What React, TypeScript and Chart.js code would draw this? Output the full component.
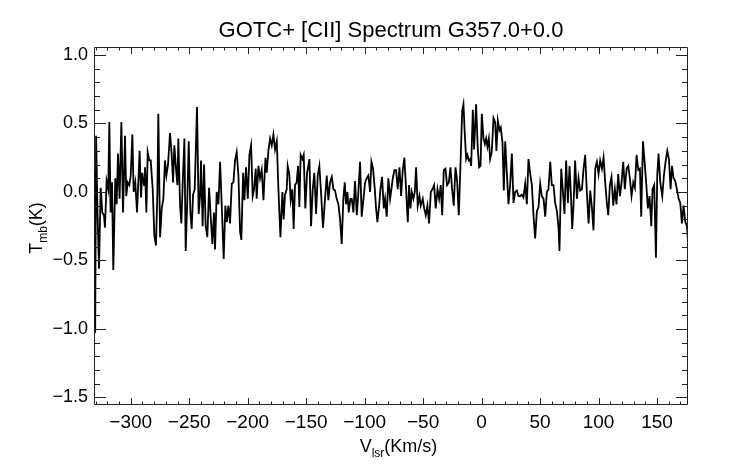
import React, { useEffect, useRef } from "react";
import { Chart, registerables } from "chart.js";

Chart.register(...registerables);

// Channel velocities (km/s) and main-beam temperatures (K)
const velocity = [
  -330.4, -329.6, -328.4, -327.1, -325.7, -324.3, -322.9, -322.0, -320.6, -319.2,
  -318.3, -317.2, -316.0, -314.9, -313.2, -312.0, -310.9, -309.5, -308.0, -306.6,
  -304.9, -303.8, -302.6, -301.2, -300.0, -298.6, -297.5, -296.1, -294.6, -292.4,
  -291.2, -290.1, -288.6, -287.8, -286.6, -285.5, -284.1, -282.9, -281.2, -279.8,
  -278.4, -277.2, -276.4, -274.9, -273.5, -272.1, -270.7, -269.5, -268.1, -266.4,
  -265.0, -263.8, -262.7, -261.3, -260.1, -259.3, -257.8, -256.7, -255.6, -254.1,
  -253.0, -251.6, -250.4, -249.0, -247.9, -246.7, -245.3, -243.3, -241.9, -240.7,
  -239.9, -238.5, -237.3, -235.9, -234.5, -233.0, -231.6, -230.2, -228.8, -227.9,
  -226.5, -225.0, -223.6, -221.9, -220.5, -219.1, -217.9, -216.5, -215.1, -213.6,
  -212.2, -210.8, -209.4, -207.9, -206.5, -205.4, -203.9, -202.8, -201.4, -199.9,
  -198.5, -197.1, -195.7, -194.5, -193.1, -192.3, -190.8, -189.4, -188.0, -186.5,
  -184.8, -183.7, -182.3, -180.8, -179.4, -178.0, -176.6, -175.1, -173.7, -172.0,
  -170.3, -169.2, -168.1, -166.6, -165.8, -164.4, -163.2, -161.8, -160.7, -159.5,
  -158.1, -156.9, -155.8, -154.7, -153.2, -152.1, -150.7, -149.2, -147.2, -145.8,
  -144.4, -143.0, -141.5, -140.1, -138.7, -137.3, -135.6, -134.1, -132.4, -131.0,
  -129.6, -128.1, -126.7, -125.3, -123.9, -122.4, -121.0, -119.6, -118.2, -117.0,
  -115.9, -114.7, -113.6, -112.2, -111.0, -109.6, -108.2, -106.7, -105.6, -103.9,
  -102.5, -101.0, -99.6, -98.2, -96.8, -95.3, -94.2, -92.8, -91.3, -90.2,
  -89.1, -87.6, -86.5, -85.1, -83.6, -82.5, -81.1, -79.7, -78.2, -77.1,
  -75.9, -74.5, -73.1, -71.7, -70.2, -68.8, -67.4, -66.0, -64.5, -63.1,
  -62.0, -60.8, -59.7, -58.3, -57.1, -56.0, -54.6, -53.1, -52.0, -50.3,
  -49.1, -47.7, -46.3, -44.9, -43.4, -42.0, -40.6, -39.2, -37.7, -36.3,
  -34.9, -33.7, -32.3, -30.9, -29.5, -28.0, -26.6, -25.2, -23.8, -22.3,
  -20.9, -19.5, -18.1, -16.6, -15.5, -14.4, -13.2, -12.1, -10.9, -9.8,
  -8.9, -7.5, -6.4, -4.7, -3.2, -2.1, -0.9, 0.2, 1.6, 2.8,
  3.9, 5.0, 6.2, 7.3, 8.7, 10.2, 11.6, 12.7, 13.9, 15.3,
  16.4, 17.9, 19.0, 20.2, 21.6, 23.0, 24.4, 25.9, 27.3, 28.7,
  30.1, 31.6, 33.0, 34.4, 35.8, 37.3, 38.7, 40.1, 41.5, 43.0,
  44.4, 45.8, 47.3, 48.7, 50.1, 51.5, 53.0, 54.4, 55.8, 57.2,
  58.7, 60.1, 61.5, 62.9, 64.4, 65.8, 66.6, 68.1, 69.5, 70.9,
  72.3, 73.8, 75.2, 76.3, 77.5, 78.6, 80.0, 81.5, 82.9, 84.3,
  85.8, 87.2, 88.6, 90.0, 91.5, 92.9, 94.3, 95.7, 97.2, 98.6,
  100.0, 101.4, 102.9, 104.3, 105.7, 107.1, 108.3, 109.7, 111.1, 112.6,
  114.0, 115.4, 116.8, 118.3, 119.7, 121.1, 122.5, 124.0, 125.4, 126.8,
  128.2, 129.7, 131.1, 132.5, 134.0, 135.4, 136.5, 138.0, 139.4, 140.8,
  142.2, 143.6, 145.1, 146.2, 147.6, 149.1, 150.2, 151.3, 152.8, 154.5,
  155.9, 157.3, 158.8, 160.2, 161.6, 162.8, 164.2, 165.6, 167.0, 168.5,
  169.9, 171.3, 172.7, 174.2, 175.6, 176.4,
];

const tmb = [
  -1.03, 0.41, -0.15, -0.56, 0.03, -0.15, -0.17, -0.26, 0.08, 0.02,
  0.51, -0.15, 0.07, -0.57, 0.10, -0.09, 0.28, -0.05, 0.51, -0.15,
  0.41, -0.03, 0.07, 0.05, 0.12, 0.42, 0.00, 0.07, -0.15, 0.30,
  -0.04, 0.14, 0.05, 0.18, -0.15, 0.29, 0.23, 0.23, 0.02, -0.32,
  -0.39, 0.00, 0.57, -0.33, -0.12, -0.05, 0.23, 0.12, 0.20, 0.43,
  0.28, 0.07, 0.34, 0.17, 0.05, 0.39, -0.10, -0.23, 0.05, 0.39,
  -0.43, -0.05, 0.37, -0.15, -0.27, -0.02, 0.02, 0.62, -0.16, -0.03,
  0.23, -0.25, 0.20, -0.25, -0.33, 0.03, -0.18, -0.38, -0.15, -0.42,
  0.00, -0.09, 0.22, -0.16, -0.49, -0.10, -0.22, -0.10, -0.23, 0.06,
  0.07, 0.23, 0.29, 0.12, -0.29, -0.35, 0.14, -0.06, 0.18, -0.05,
  0.27, 0.34, -0.03, 0.02, 0.17, -0.05, 0.19, 0.10, 0.16, -0.06,
  0.25, 0.14, 0.30, 0.39, 0.34, 0.42, 0.31, 0.37, 0.02, -0.33,
  0.00, -0.20, -0.02, 0.02, 0.19, 0.13, -0.06, 0.02, -0.27, 0.05,
  0.07, 0.19, -0.11, 0.27, 0.24, 0.27, -0.12, 0.14, 0.24, -0.25,
  0.02, 0.14, -0.16, 0.12, 0.19, 0.00, -0.26, -0.08, 0.12, -0.06,
  0.07, 0.11, 0.02, 0.01, -0.05, -0.09, -0.20, -0.38, -0.05, 0.07,
  -0.09, 0.00, -0.15, -0.05, -0.05, -0.15, 0.08, -0.17, -0.04, 0.22,
  -0.18, -0.05, 0.07, 0.10, 0.12, 0.00, 0.22, 0.17, 0.02, -0.12,
  -0.22, -0.10, 0.02, 0.11, -0.12, -0.05, -0.18, 0.10, -0.05, 0.02,
  0.10, 0.16, 0.16, 0.02, 0.18, -0.03, 0.16, 0.25, 0.01, -0.22,
  0.05, -0.12, 0.00, -0.05, 0.00, 0.18, -0.10, -0.03, -0.10, -0.05,
  -0.12, -0.17, -0.10, -0.23, 0.00, 0.02, 0.05, -0.12, 0.02, -0.05,
  0.05, -0.17, 0.16, 0.17, 0.05, 0.07, 0.18, 0.02, -0.10, 0.18,
  0.08, -0.17, 0.18, 0.59, 0.64, 0.43, 0.24, 0.27, 0.23, 0.24,
  0.19, 0.60, 0.31, 0.64, 0.31, 0.18, 0.19, 0.57, 0.39, 0.35,
  0.39, 0.33, 0.39, 0.24, 0.29, 0.54, 0.51, 0.30, 0.52, 0.45,
  0.47, 0.36, 0.01, 0.37, 0.14, -0.09, 0.05, 0.28, -0.08, 0.00,
  0.01, -0.03, -0.03, -0.02, -0.04, 0.06, -0.09, 0.24, 0.14, 0.05,
  -0.17, -0.34, -0.14, -0.11, 0.06, -0.03, -0.05, -0.18, 0.00, 0.02,
  0.22, 0.05, 0.05, -0.08, -0.14, -0.26, -0.43, 0.17, 0.01, -0.16,
  0.23, -0.08, 0.19, 0.00, -0.27, -0.10, 0.23, -0.05, 0.10, 0.01,
  0.02, 0.17, 0.27, 0.00, -0.23, 0.01, -0.11, -0.28, 0.17, 0.22,
  0.13, 0.23, 0.17, 0.25, 0.07, -0.08, -0.17, 0.05, 0.11, -0.10,
  0.02, -0.09, 0.13, -0.03, 0.07, 0.22, 0.02, 0.17, 0.19, 0.10,
  -0.03, 0.07, 0.03, 0.27, 0.16, 0.17, -0.18, 0.37, 0.22, 0.06,
  -0.12, -0.03, -0.25, 0.02, 0.05, -0.48, 0.12, 0.28, 0.07, -0.03,
  0.12, 0.22, 0.30, 0.24, 0.02, 0.19, 0.10, 0.08, 0.02, -0.05,
  -0.08, -0.23, -0.10, -0.22, -0.25, -0.35,
];

const xTickValues = [-300, -250, -200, -150, -100, -50, 0, 50, 100, 150];
const yTickValues = [-1.5, -1.0, -0.5, 0.0, 0.5, 1.0];
const xMinorStep = 10;
const yMinorStep = 0.1;
const xLimits = [-331.4, 176.5];
const yLimits = [-1.555, 1.058];

const titleText = "GOTC+ [CII] Spectrum G357.0+0.0";
const xTitleParts = ["V", "lsr", "(Km/s)"];
const yTitleParts = ["T", "mb", "(K)"];

const FONT = "'Liberation Sans', Arial, Helvetica, sans-serif";
const fmtMinus = (s: string) => s.replace("-", "\u2212");

type Part = { text: string; size: number; dy: number };

function drawParts(ctx: CanvasRenderingContext2D, parts: Part[], cx: number, baseY: number) {
  let total = 0;
  const widths = parts.map((p) => {
    ctx.font = `${p.size}px ${FONT}`;
    const w = ctx.measureText(p.text).width;
    total += w;
    return w;
  });
  let x = cx - total / 2;
  ctx.textAlign = "left";
  ctx.textBaseline = "alphabetic";
  parts.forEach((p, i) => {
    ctx.font = `${p.size}px ${FONT}`;
    ctx.fillText(p.text, x, baseY + p.dy);
    x += widths[i];
  });
}

const idlFrame = {
  id: "idlFrame",
  afterDraw(chart: any) {
    const { ctx, chartArea: a, scales } = chart;
    const xs = scales.x;
    const ys = scales.y;
    ctx.save();
    ctx.strokeStyle = "#222";
    ctx.lineWidth = 1;
    ctx.beginPath();
    ctx.rect(a.left + 0.5, a.top + 0.5, a.right - a.left - 1, a.bottom - a.top - 1);
    ctx.stroke();

    const xMajLen = 7, xMinLen = 3.5, yMajLen = 12, yMinLen = 6;
    ctx.beginPath();
    const isMajor = (v: number, list: number[]) => list.some((t) => Math.abs(t - v) < 1e-6);
    for (let v = Math.ceil(xLimits[0] / xMinorStep) * xMinorStep; v <= xLimits[1]; v += xMinorStep) {
      const len = isMajor(v, xTickValues) ? xMajLen : xMinLen;
      const px = Math.round(xs.getPixelForValue(v)) + 0.5;
      ctx.moveTo(px, a.bottom);
      ctx.lineTo(px, a.bottom - len);
      ctx.moveTo(px, a.top);
      ctx.lineTo(px, a.top + len);
    }
    const nMin = Math.ceil(yLimits[0] / yMinorStep - 1e-9);
    const nMax = Math.floor(yLimits[1] / yMinorStep + 1e-9);
    for (let n = nMin; n <= nMax; n++) {
      const v = n * yMinorStep;
      const len = isMajor(v, yTickValues) ? yMajLen : yMinLen;
      const py = Math.round(ys.getPixelForValue(v)) + 0.5;
      ctx.moveTo(a.left, py);
      ctx.lineTo(a.left + len, py);
      ctx.moveTo(a.right, py);
      ctx.lineTo(a.right - len, py);
    }
    ctx.stroke();

    ctx.fillStyle = "#000";
    ctx.font = `22px ${FONT}`;
    ctx.textAlign = "center";
    ctx.textBaseline = "alphabetic";
    ctx.fillText(titleText, (a.left + a.right) / 2, 37);

    drawParts(
      ctx,
      [
        { text: xTitleParts[0], size: 18, dy: 0 },
        { text: xTitleParts[1], size: 12, dy: 5 },
        { text: xTitleParts[2], size: 18, dy: 0 },
      ],
      398.5,
      452
    );

    ctx.save();
    ctx.translate(41.5, 228);
    ctx.rotate(-Math.PI / 2);
    drawParts(
      ctx,
      [
        { text: yTitleParts[0], size: 18, dy: 0 },
        { text: yTitleParts[1], size: 12, dy: 5 },
        { text: yTitleParts[2], size: 18, dy: 0 },
      ],
      0,
      0
    );
    ctx.restore();
    ctx.restore();
  },
};

export default function App() {
  const ref = useRef<HTMLCanvasElement | null>(null);

  useEffect(() => {
    document.body.style.margin = "0";
    const canvas = ref.current;
    if (!canvas) return;
    const points = velocity.map((v, i) => ({ x: v, y: tmb[i] }));
    const chart = new Chart(canvas, {
      type: "line",
      data: {
        datasets: [
          {
            data: points,
            borderColor: "#000",
            borderWidth: 1.8,
            pointRadius: 0,
            tension: 0,
            fill: false,
          },
        ],
      },
      options: {
        animation: false,
        responsive: false,
        devicePixelRatio: 1,
        layout: { padding: { top: 47, right: 54, left: 0, bottom: 0 } },
        plugins: { legend: { display: false }, tooltip: { enabled: false }, title: { display: false } },
        scales: {
          x: {
            type: "linear",
            min: xLimits[0],
            max: xLimits[1],
            afterBuildTicks: (s: any) => {
              s.ticks = xTickValues.map((v) => ({ value: v }));
            },
            afterFit: (s: any) => {
              s.height = 59;
            },
            grid: { display: false, drawTicks: false },
            border: { display: false },
            ticks: {
              autoSkip: false,
              maxRotation: 0,
              padding: 6,
              color: "#000",
              font: { family: FONT, size: 19 },
              callback: (v: any) => fmtMinus(String(v)),
            },
          },
          y: {
            type: "linear",
            min: yLimits[0],
            max: yLimits[1],
            afterBuildTicks: (s: any) => {
              s.ticks = yTickValues.map((v) => ({ value: v }));
            },
            afterFit: (s: any) => {
              s.width = 94;
            },
            grid: { display: false, drawTicks: false },
            border: { display: false },
            ticks: {
              autoSkip: false,
              padding: 6,
              color: "#000",
              font: { family: FONT, size: 18 },
              callback: (v: any) => fmtMinus(Number(v).toFixed(1)),
            },
          },
        },
      },
      plugins: [idlFrame],
    });
    return () => chart.destroy();
  }, []);

  return (
    <div style={{ width: 742, height: 464 }}>
      <canvas ref={ref} width={742} height={464} style={{ display: "block" }} />
    </div>
  );
}
